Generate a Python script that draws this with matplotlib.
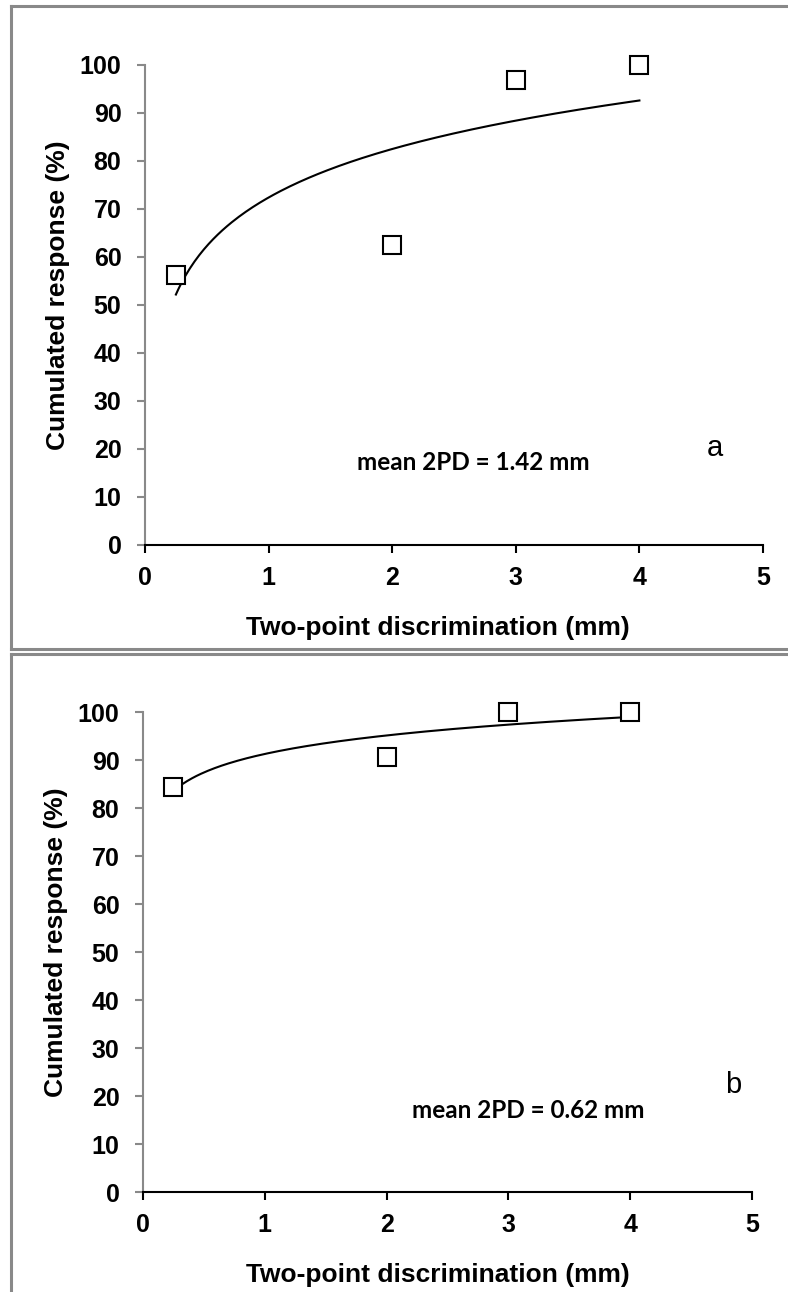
import matplotlib
matplotlib.use("Agg")
import matplotlib.pyplot as plt
import numpy as np
from matplotlib.lines import Line2D

# data
x_mm = [0.25, 2, 3, 4]
resp_a = [56.3, 62.5, 96.9, 100]
resp_b = [84.4, 90.6, 100, 100]
note_a = "mean 2PD = 1.42 mm"
note_b = "mean 2PD = 0.62 mm"
xticks = [0, 1, 2, 3, 4, 5]
yticks = list(range(0, 101, 10))

W, H = 788, 1292
plt.rcParams['font.family'] = ['Liberation Sans', 'DejaVu Sans']
fig = plt.figure(figsize=(W / 100, H / 100), dpi=100)

gray = '#898989'


def panel(rect, y, note, note_xy, letter, letter_xy, xlab_x, width_px):
    ax = fig.add_axes(rect)
    # log trendline, like the spreadsheet one
    b, a = np.polyfit(np.log(x_mm), y, 1)
    xs = np.linspace(min(x_mm), max(x_mm), 200)
    ax.plot(xs, a + b * np.log(xs), color='black', lw=1.5, clip_on=False)
    ax.plot(x_mm, y, 's', ms=13.5, mfc='white', mec='black', mew=1.5,
            clip_on=False, zorder=3)
    ax.set_xlim(0, 5)
    ax.set_ylim(0, 100)
    ax.set_xticks(xticks)
    ax.set_yticks(yticks)
    for s in ['top', 'right']:
        ax.spines[s].set_visible(False)
    ax.spines['left'].set_color(gray)
    ax.spines['left'].set_linewidth(1.5)
    ax.spines['bottom'].set_color('black')
    ax.spines['bottom'].set_linewidth(1.5)
    ax.tick_params(axis='y', direction='out', length=6, width=1.5, color=gray,
                   pad=11, labelsize=18)
    ax.tick_params(axis='x', direction='out', length=6, width=1.5, color='black',
                   pad=9, labelsize=18)
    for t in ax.get_xticklabels() + ax.get_yticklabels():
        t.set_fontweight('bold')
    ax.set_xlabel('Two-point discrimination (mm)', fontsize=19, fontweight='bold')
    ax.set_ylabel('Cumulated response (%)', fontsize=19, fontweight='bold')
    ax.xaxis.set_label_coords(xlab_x, -0.148)
    ax.yaxis.set_label_coords(-0.122 * 618 / width_px, 0.52)
    fig.text(note_xy[0] / W, 1 - note_xy[1] / H, note, fontsize=17.5,
             fontweight='bold', family=['Lato', 'DejaVu Sans'],
             ha='center', va='center')
    fig.text(letter_xy[0] / W, 1 - letter_xy[1] / H, letter, fontsize=21,
             ha='center', va='center')
    return ax


panel([145 / W, 1 - 545 / H, (763 - 145) / W, 480 / H], resp_a,
      note_a, (473, 462), 'a', (715, 448), (438 - 145) / 618, 618)
panel([143 / W, 1 - 1192 / H, (752 - 143) / W, 480 / H], resp_b,
      note_b, (528, 1110), 'b', (733, 1085), (438 - 143) / 609, 609)

# panel frames
lw = 2.2
fig.add_artist(Line2D([11 / W, 1], [1 - 6 / H] * 2, color=gray, lw=lw))
fig.add_artist(Line2D([11 / W, 1], [1 - 649 / H] * 2, color=gray, lw=lw))
fig.add_artist(Line2D([11 / W, 1], [1 - 654 / H] * 2, color=gray, lw=lw))
fig.add_artist(Line2D([11 / W] * 2, [1 - 6 / H, 1 - 649 / H], color=gray, lw=lw))
fig.add_artist(Line2D([11 / W] * 2, [1 - 654 / H, 0], color=gray, lw=lw))

fig.savefig('out.png', dpi=100)
